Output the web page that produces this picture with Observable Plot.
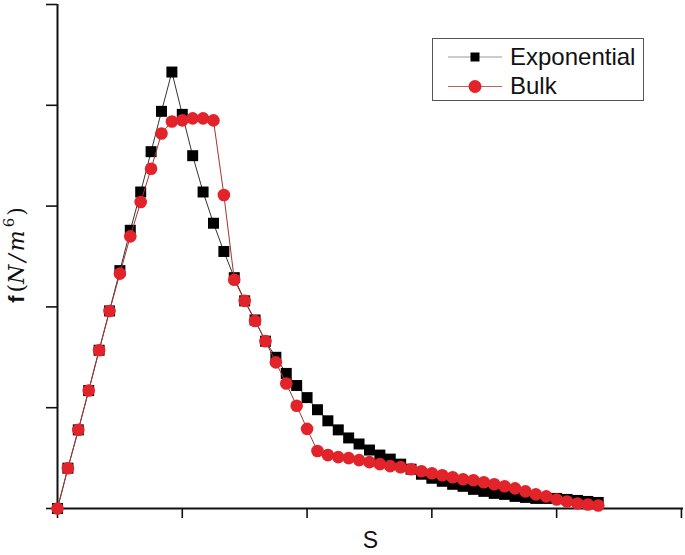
<!DOCTYPE html>
<html>
<head>
<meta charset="utf-8">
<script src="https://cdn.jsdelivr.net/npm/d3@7"></script>
<script src="https://cdn.jsdelivr.net/npm/@observablehq/plot@0.6"></script>
<style>
  body { margin: 0; background: #fff; }
  #chart { width: 685px; height: 555px; }
</style>
</head>
<body>
<div id="chart"></div>
<script>
// s position index (12 steps per major tick)
const steps = [0,1,2,3,4,5,6,7,8,9,10,11,12,13,14,15,16,17,18,19,20,21,22,23,24,25,26,27,28,29,30,31,32,33,34,35,36,37,38,39,40,41,42,43,44,45,46,47,48,49,50,51,52];
const exponential = [0,0.40,0.78,1.17,1.57,1.96,2.36,2.76,3.14,3.54,3.94,4.33,3.91,3.50,3.14,2.83,2.55,2.29,2.06,1.87,1.66,1.50,1.34,1.22,1.10,0.98,0.87,0.78,0.70,0.64,0.58,0.53,0.49,0.44,0.39,0.34,0.30,0.27,0.24,0.22,0.19,0.17,0.15,0.14,0.12,0.11,0.10,0.10,0.10,0.09,0.08,0.07,0.06];
const bulk = [0,0.40,0.78,1.17,1.57,1.96,2.33,2.70,3.04,3.37,3.72,3.84,3.85,3.87,3.87,3.85,3.11,2.27,2.06,1.86,1.66,1.45,1.24,1.02,0.79,0.57,0.53,0.51,0.50,0.48,0.46,0.44,0.42,0.41,0.39,0.37,0.35,0.33,0.31,0.29,0.28,0.26,0.24,0.22,0.20,0.17,0.14,0.12,0.09,0.07,0.05,0.04,0.03];
const xTicks = [0,12,24,36,48,60];
const yTicks = [0,1,2,3,4,5];
const seriesNames = ["Exponential", "Bulk"];
const xLabel = "S";

const expData = steps.map((s, i) => ({s, f: exponential[i]}));
const bulkData = steps.map((s, i) => ({s, f: bulk[i]}));

const plot = Plot.plot({
  width: 685,
  height: 555,
  marginLeft: 57,
  marginRight: 2,
  marginTop: 4,
  marginBottom: 47,
  style: {background: "#fff", overflow: "visible"},
  x: {domain: [0, 60.2]},
  y: {domain: [0, 5]},
  marks: [
    Plot.axisX({ticks: xTicks, tickSize: 10, fill: "none", stroke: "#111", strokeWidth: 1.6, label: null}),
    Plot.axisY({ticks: yTicks, tickSize: 11, fill: "none", stroke: "#111", strokeWidth: 1.6, label: null}),
    Plot.ruleY([0], {stroke: "#111", strokeWidth: 2}),
    Plot.ruleX([0], {stroke: "#111", strokeWidth: 2}),
    Plot.line(expData, {x: "s", y: "f", stroke: "#333", strokeWidth: 1}),
    Plot.dot(expData, {x: "s", y: "f", symbol: "square", r: 6.2, fill: "#000"}),
    Plot.line(bulkData, {x: "s", y: "f", stroke: "#a83232", strokeWidth: 1}),
    Plot.dot(bulkData, {x: "s", y: "f", symbol: "circle", r: 6.3, fill: "#e3232a"}),
    Plot.text([xLabel], {frameAnchor: "bottom", dy: 39, fontSize: 23, fill: "#111", fontFamily: "Liberation Sans, Arial, sans-serif"})
  ]
});
document.getElementById("chart").appendChild(plot);

const svg = d3.select(plot.tagName.toLowerCase() === "svg" ? plot : plot.querySelector("svg"));

// y-axis label f(N/m^6)
const yl = svg.append("text")
  .attr("transform", "translate(24,255) rotate(-90)")
  .attr("text-anchor", "middle")
  .attr("fill", "#111")
  .style("font-size", "22px");
yl.append("tspan").attr("font-family", "Liberation Sans, Arial, sans-serif").attr("font-weight", "bold").text("f");
yl.append("tspan").attr("font-family", "DejaVu Serif, serif").attr("dx", 3).text("(");
yl.append("tspan").attr("font-family", "DejaVu Serif, serif").attr("font-style", "italic").attr("letter-spacing", "3px").text("N/m");
yl.append("tspan").attr("font-family", "DejaVu Serif, serif").style("font-size", "15px").attr("dy", -10).text("6");
yl.append("tspan").attr("font-family", "DejaVu Serif, serif").attr("dx", 2).attr("dy", 10).text(")");

// legend
const lg = svg.append("g").attr("font-family", "Liberation Sans, Arial, sans-serif").attr("text-anchor", "start");
lg.append("rect").attr("x", 432.5).attr("y", 38.5).attr("width", 211).attr("height", 62)
  .attr("fill", "#fff").attr("stroke", "#555").attr("stroke-width", 1);
lg.append("line").attr("x1", 448).attr("x2", 502).attr("y1", 57).attr("y2", 57).attr("stroke", "#999").attr("stroke-width", 1.2);
lg.append("rect").attr("x", 470.5).attr("y", 52.5).attr("width", 9).attr("height", 9).attr("fill", "#000");
lg.append("text").attr("x", 510).attr("y", 65).attr("font-size", 24).attr("fill", "#111").text(seriesNames[0]);
lg.append("line").attr("x1", 448).attr("x2", 502).attr("y1", 86.5).attr("y2", 86.5).attr("stroke", "#c06060").attr("stroke-width", 1.2);
lg.append("circle").attr("cx", 475).attr("cy", 86.5).attr("r", 6.5).attr("fill", "#e3232a");
lg.append("text").attr("x", 510).attr("y", 94).attr("font-size", 24).attr("fill", "#111").text(seriesNames[1]);
</script>
</body>
</html>
